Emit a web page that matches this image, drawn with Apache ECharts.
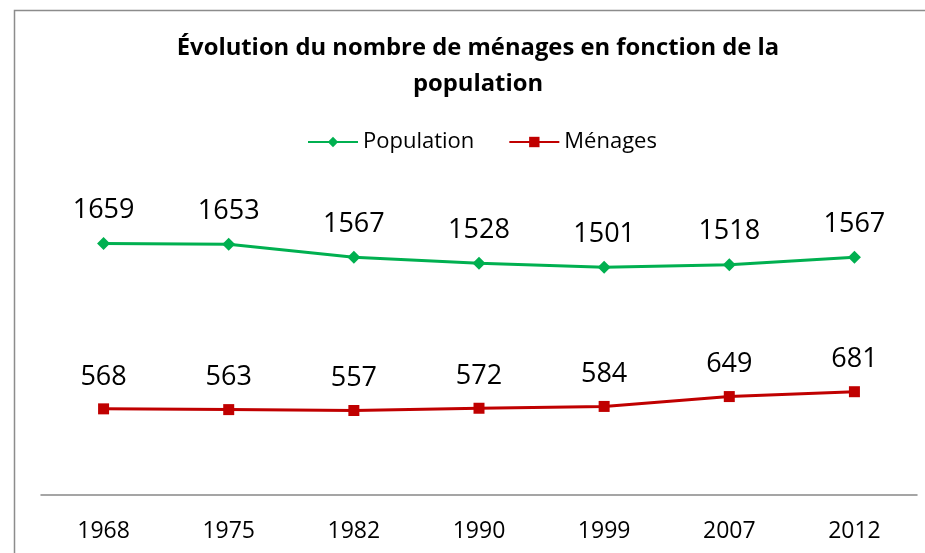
<!DOCTYPE html>
<html>
<head>
<meta charset="utf-8">
<script src="https://cdn.jsdelivr.net/npm/echarts@6/dist/echarts.min.js"></script>
<style>
  html, body { margin: 0; padding: 0; background: #fff; overflow: hidden; }
  #main { width: 925px; height: 553px; }
</style>
</head>
<body>
<div id="main"></div>
<script>
// données du graphique
var annees = ['1968', '1975', '1982', '1990', '1999', '2007', '2012'];
var population = [1659, 1653, 1567, 1528, 1501, 1518, 1567];
var menages = [568, 563, 557, 572, 584, 649, 681];

var myChart = echarts.init(document.getElementById('main'));

var labelStyle = {
    show: true,
    position: 'top',
    distance: 13,
    fontFamily: 'Open Sans',
    fontSize: 27,
    color: '#000'
};

var option = {
    backgroundColor: '#fff',
    animation: false,
    title: {
        text: 'Évolution du nombre de ménages en fonction de la\npopulation',
        left: 473,
        textAlign: 'center',
        top: 25,
        textStyle: {
            fontFamily: 'Open Sans',
            fontWeight: 'bold',
            fontSize: 23.8,
            lineHeight: 36,
            color: '#000'
        }
    },
    legend: {
        top: 126,
        left: 302,
        itemWidth: 50,
        itemHeight: 13,
        itemGap: 34,
        textStyle: { fontFamily: 'Open Sans', fontSize: 22, color: '#000' },
        data: ['Population', 'Ménages']
    },
    // cadre : bords haut et gauche seulement
    graphic: [{
        type: 'polyline',
        shape: { points: [[925, 10.5], [14.5, 10.5], [14.5, 553]] },
        style: { fill: 'none', stroke: '#8c8c8c', lineWidth: 1.5 },
        silent: true
    }],
    grid: { left: 41, right: 8, top: 222, bottom: 58 },
    xAxis: {
        type: 'category',
        data: annees,
        boundaryGap: true,
        axisLine: { lineStyle: { color: '#888', width: 1.5 } },
        axisTick: { show: false },
        axisLabel: {
            margin: 25,
            fontFamily: 'Open Sans',
            fontSize: 23,
            color: '#000'
        }
    },
    yAxis: {
        type: 'value',
        min: 0,
        max: 1800,
        interval: 200,
        show: false,
        splitLine: { show: false }
    },
    series: [
        {
            name: 'Population',
            type: 'line',
            data: population,
            symbol: 'diamond',
            symbolSize: 13,
            itemStyle: { color: '#00B050' },
            lineStyle: { color: '#00B050', width: 3 },
            label: labelStyle
        },
        {
            name: 'Ménages',
            type: 'line',
            data: menages,
            symbol: 'rect',
            symbolSize: 11,
            itemStyle: { color: '#C00000' },
            lineStyle: { color: '#C00000', width: 3 },
            label: labelStyle
        }
    ]
};

myChart.setOption(option);
</script>
</body>
</html>
